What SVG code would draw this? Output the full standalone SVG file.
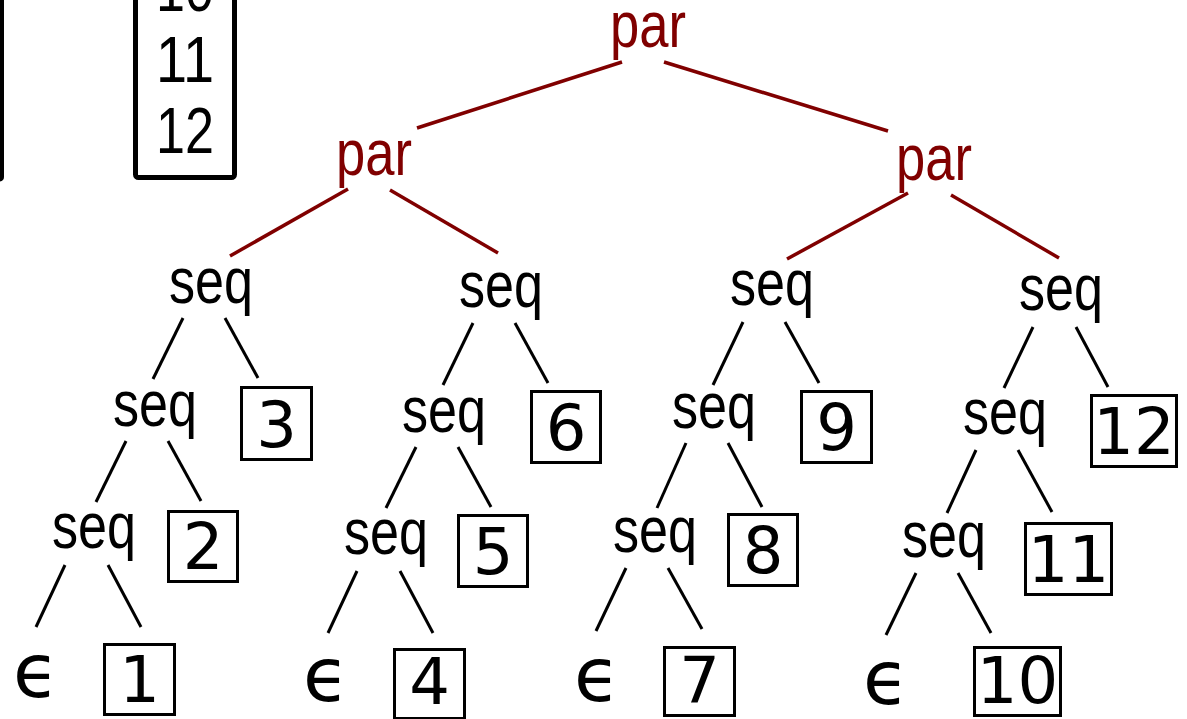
<svg xmlns="http://www.w3.org/2000/svg" width="1187" height="719" viewBox="0 0 1187 719">
<style>
.lbl{font-family:"Liberation Sans Narrow","Liberation Sans",Arial,sans-serif;font-size:64px;text-anchor:middle}
.par{fill:#800000}
.seq{fill:#000}
.num{font-family:"DejaVu Sans",Verdana,sans-serif;font-size:64px;text-anchor:middle;fill:#000}
.eps{font-family:"DejaVu Sans",sans-serif;font-size:75px;fill:#000}
.box{fill:none;stroke:#000;stroke-width:3}
.e{stroke:#000;stroke-width:3;fill:none}
.r{stroke:#800000;stroke-width:3.5;fill:none}
.stack{font-family:"Liberation Sans",Arial,sans-serif;font-size:65px;text-anchor:middle;fill:#000}
</style>
<rect width="1187" height="719" fill="#fff"/>
<g id="partial-left">
<path d="M1.5,-10 V177 Q1.5,179 -1,179" fill="none" stroke="#000" stroke-width="5"/>
</g>
<g id="stack">
<rect x="135.5" y="-20" width="99" height="197.5" rx="3" fill="none" stroke="#000" stroke-width="5"/>
<text class="stack" x="185" y="11" textLength="58" lengthAdjust="spacingAndGlyphs">10</text>
<text class="stack" x="185" y="82" textLength="58" lengthAdjust="spacingAndGlyphs">11</text>
<text class="stack" x="185" y="153" textLength="58" lengthAdjust="spacingAndGlyphs">12</text>
</g>
<g id="connectors">
<line class="r" x1="622" y1="62" x2="417" y2="128"/>
<line class="r" x1="664" y1="62" x2="888" y2="131"/>
<line class="r" x1="348" y1="189" x2="230" y2="256"/>
<line class="r" x1="390" y1="190" x2="498" y2="253"/>
<line class="r" x1="908" y1="193" x2="787" y2="259"/>
<line class="r" x1="951" y1="195" x2="1059" y2="258"/>
<line class="e" x1="183" y1="318" x2="153" y2="379"/>
<line class="e" x1="225" y1="318" x2="258" y2="378"/>
<line class="e" x1="126" y1="441" x2="96" y2="502"/>
<line class="e" x1="168" y1="441" x2="201" y2="501"/>
<line class="e" x1="65" y1="565" x2="36" y2="627"/>
<line class="e" x1="108" y1="565" x2="141" y2="627"/>
<line class="e" x1="473" y1="323" x2="443" y2="385"/>
<line class="e" x1="515" y1="323" x2="548" y2="383"/>
<line class="e" x1="416" y1="447" x2="386" y2="508"/>
<line class="e" x1="458" y1="447" x2="491" y2="507"/>
<line class="e" x1="357" y1="571" x2="328" y2="633"/>
<line class="e" x1="400" y1="571" x2="433" y2="633"/>
<line class="e" x1="743" y1="322" x2="713" y2="385"/>
<line class="e" x1="785" y1="322" x2="819" y2="383"/>
<line class="e" x1="686" y1="443" x2="657" y2="508"/>
<line class="e" x1="728" y1="443" x2="762" y2="507"/>
<line class="e" x1="626" y1="568" x2="596" y2="631"/>
<line class="e" x1="668" y1="568" x2="702" y2="629"/>
<line class="e" x1="1033" y1="327" x2="1004" y2="388"/>
<line class="e" x1="1076" y1="327" x2="1108" y2="387"/>
<line class="e" x1="976" y1="450" x2="947" y2="513"/>
<line class="e" x1="1018" y1="450" x2="1052" y2="512"/>
<line class="e" x1="916" y1="573" x2="886" y2="635"/>
<line class="e" x1="958" y1="573" x2="991" y2="633"/>
</g>
<g id="par-root"><text class="lbl par" x="648" y="47" textLength="76" lengthAdjust="spacingAndGlyphs">par</text></g>
<g id="par-left"><text class="lbl par" x="374" y="175" textLength="76" lengthAdjust="spacingAndGlyphs">par</text></g>
<g id="par-right"><text class="lbl par" x="934" y="180" textLength="76" lengthAdjust="spacingAndGlyphs">par</text></g>
<g id="seq-1a"><text class="lbl seq" x="211" y="303" textLength="84" lengthAdjust="spacingAndGlyphs">seq</text></g>
<g id="seq-1b"><text class="lbl seq" x="155" y="426" textLength="84" lengthAdjust="spacingAndGlyphs">seq</text></g>
<g id="seq-1c"><text class="lbl seq" x="94" y="548" textLength="84" lengthAdjust="spacingAndGlyphs">seq</text></g>
<g id="seq-2a"><text class="lbl seq" x="501" y="307" textLength="84" lengthAdjust="spacingAndGlyphs">seq</text></g>
<g id="seq-2b"><text class="lbl seq" x="444" y="432" textLength="84" lengthAdjust="spacingAndGlyphs">seq</text></g>
<g id="seq-2c"><text class="lbl seq" x="386" y="554" textLength="84" lengthAdjust="spacingAndGlyphs">seq</text></g>
<g id="seq-3a"><text class="lbl seq" x="772" y="305" textLength="84" lengthAdjust="spacingAndGlyphs">seq</text></g>
<g id="seq-3b"><text class="lbl seq" x="714" y="428" textLength="84" lengthAdjust="spacingAndGlyphs">seq</text></g>
<g id="seq-3c"><text class="lbl seq" x="655" y="552" textLength="84" lengthAdjust="spacingAndGlyphs">seq</text></g>
<g id="seq-4a"><text class="lbl seq" x="1061" y="310" textLength="84" lengthAdjust="spacingAndGlyphs">seq</text></g>
<g id="seq-4b"><text class="lbl seq" x="1005" y="434" textLength="84" lengthAdjust="spacingAndGlyphs">seq</text></g>
<g id="seq-4c"><text class="lbl seq" x="944" y="557" textLength="84" lengthAdjust="spacingAndGlyphs">seq</text></g>
<g id="eps-1"><text class="eps" x="13" y="697">ϵ</text></g>
<g id="eps-2"><text class="eps" x="303" y="701">ϵ</text></g>
<g id="eps-3"><text class="eps" x="574" y="701">ϵ</text></g>
<g id="eps-4"><text class="eps" x="863" y="704">ϵ</text></g>
<g id="leaf-1"><rect class="box" x="104.5" y="644.5" width="70" height="70"/><text class="num" x="139.5" y="702">1</text></g>
<g id="leaf-2"><rect class="box" x="168.5" y="511.5" width="69" height="70"/><text class="num" x="203" y="569">2</text></g>
<g id="leaf-3"><rect class="box" x="241.5" y="387.5" width="70" height="72"/><text class="num" x="276.5" y="447">3</text></g>
<g id="leaf-4"><rect class="box" x="394.5" y="649.5" width="70" height="69"/><text class="num" x="429.5" y="704">4</text></g>
<g id="leaf-5"><rect class="box" x="458.5" y="515.5" width="69" height="71"/><text class="num" x="493" y="574">5</text></g>
<g id="leaf-6"><rect class="box" x="531.5" y="391.5" width="69" height="71"/><text class="num" x="566" y="450">6</text></g>
<g id="leaf-7"><rect class="box" x="664.5" y="647.5" width="70" height="68"/><text class="num" x="699.5" y="703">7</text></g>
<g id="leaf-8"><rect class="box" x="728.5" y="514.5" width="69" height="71"/><text class="num" x="763" y="573">8</text></g>
<g id="leaf-9"><rect class="box" x="801.5" y="391.5" width="70" height="71"/><text class="num" x="836.5" y="450">9</text></g>
<g id="leaf-10"><rect class="box" x="974.5" y="647.5" width="86" height="68"/><text class="num" x="1017.5" y="703">10</text></g>
<g id="leaf-11"><rect class="box" x="1025.5" y="523.5" width="86" height="71"/><text class="num" x="1068.5" y="582">11</text></g>
<g id="leaf-12"><rect class="box" x="1091.5" y="395.5" width="85" height="71"/><text class="num" x="1134" y="454">12</text></g>
</svg>
